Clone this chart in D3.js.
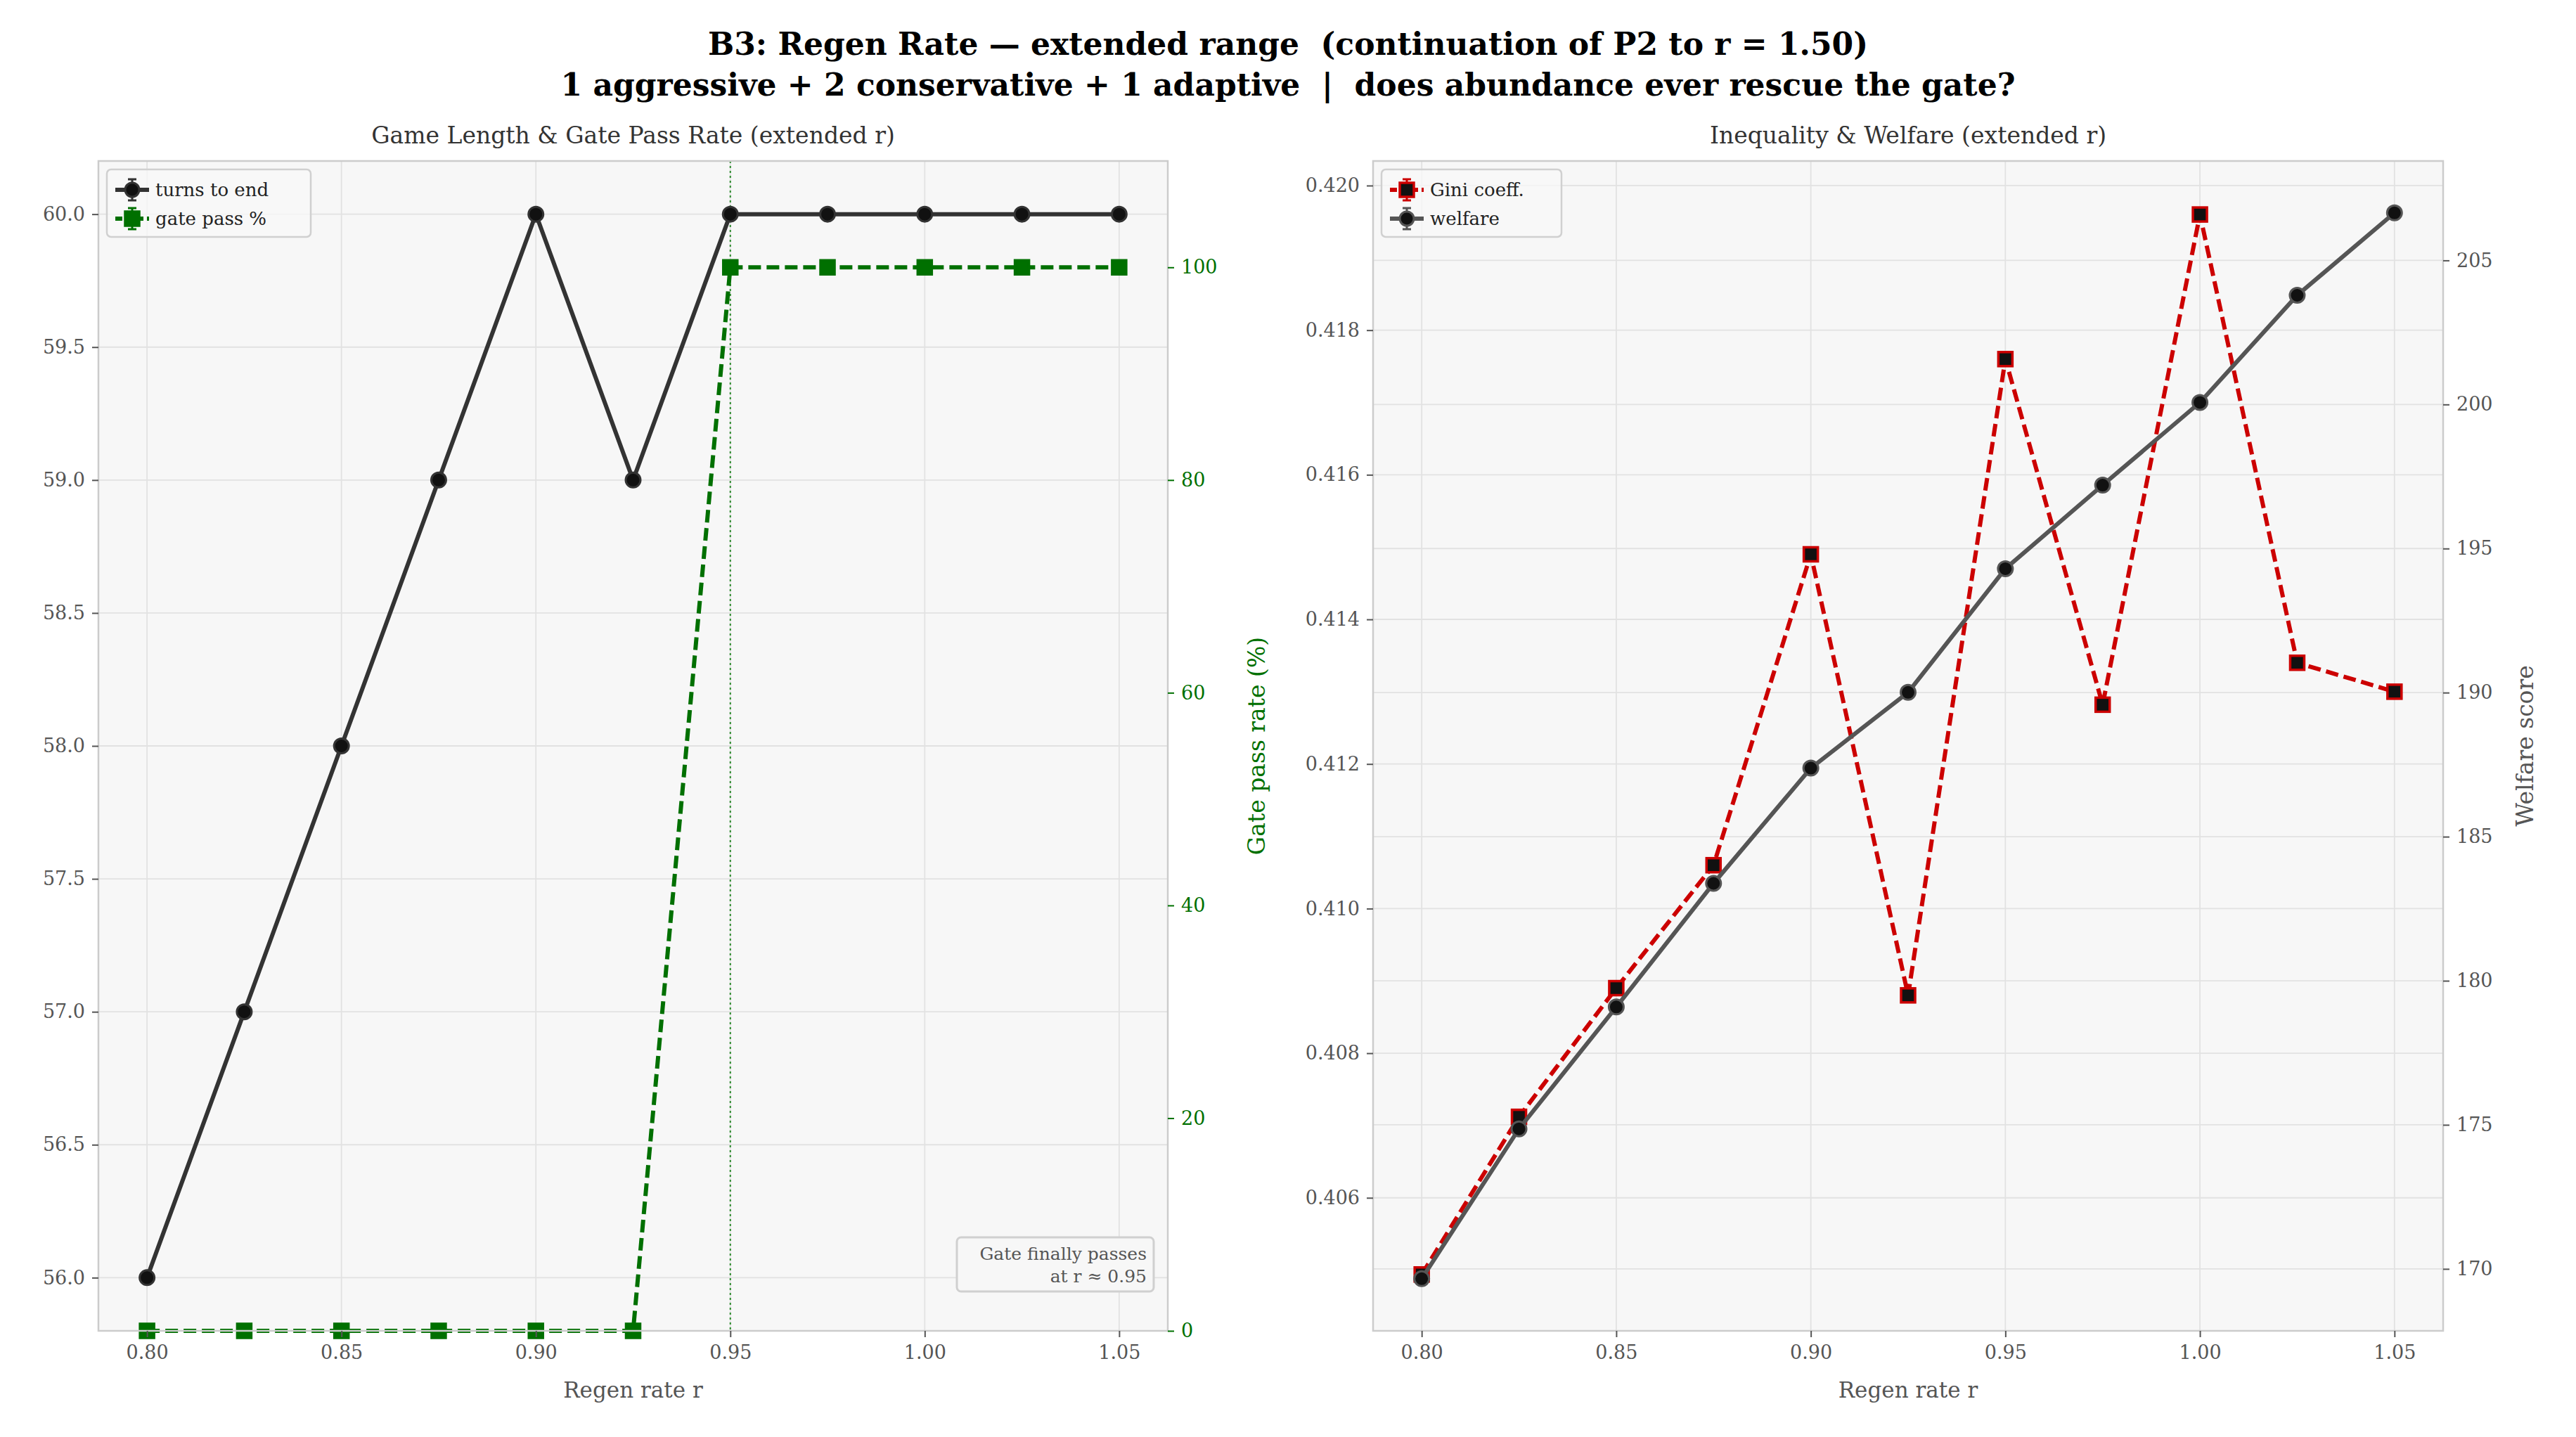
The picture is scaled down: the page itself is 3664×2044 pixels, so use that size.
<!DOCTYPE html>
<html><head><meta charset="utf-8">
<script src="https://cdn.jsdelivr.net/npm/d3@7"></script>
<style>body{margin:0;background:#fff}svg{font-family:"DejaVu Serif",serif}text{white-space:pre}</style>
</head><body><svg id="c" width="3664" height="2044"></svg>
<script>
const regen=[0.80,0.825,0.85,0.875,0.90,0.925,0.95,0.975,1.00,1.025,1.05];
const turns=[56,57,58,59,60,59,60,60,60,60,60];
const gate=[0,0,0,0,0,0,100,100,100,100,100];
const gini=[0.40494,0.40712,0.40890,0.41060,0.41490,0.40880,0.41760,0.41282,0.41960,0.41340,0.41300];
const welfare=[169.66,174.86,179.09,183.38,187.38,190.01,194.30,197.20,200.07,203.79,206.65];
const xTicks=[0.80,0.85,0.90,0.95,1.00,1.05];
const turnTicks=[56.0,56.5,57.0,57.5,58.0,58.5,59.0,59.5,60.0];
const gateTicks=[0,20,40,60,80,100];
const giniTicks=[0.406,0.408,0.410,0.412,0.414,0.416,0.418,0.420];
const welfareTicks=[170,175,180,185,190,195,200,205];

const svg=d3.select("#c");
const tickC="#555", gridC="#e2e2e2", spineC="#cccccc";
svg.append("text").attr("x",1832).attr("y",78).attr("text-anchor","middle").attr("font-size",44).attr("font-weight","bold").attr("xml:space","preserve").text("B3: Regen Rate — extended range  (continuation of P2 to r = 1.50)");
svg.append("text").attr("x",1832).attr("y",136).attr("text-anchor","middle").attr("font-size",44).attr("font-weight","bold").attr("xml:space","preserve").text("1 aggressive + 2 conservative + 1 adaptive  |  does abundance ever rescue the gate?");

function panel(x0,x1,y0,y1,title){
  const g=svg.append("g");
  g.append("rect").attr("x",x0).attr("y",y0).attr("width",x1-x0).attr("height",y1-y0).attr("fill","#f7f7f7");
  g.append("text").attr("x",(x0+x1)/2).attr("y",y0-25).attr("text-anchor","middle").attr("font-size",33).attr("fill","#333").text(title);
  const x=d3.scaleLinear().domain([0.7875,1.0625]).range([x0,x1]);
  return {g,x};
}
function grid(g,x,y,x0,x1,y0,y1,xt,yt){
  xt.forEach(v=>g.append("line").attr("x1",x(v)).attr("x2",x(v)).attr("y1",y0).attr("y2",y1).attr("stroke",gridC).attr("stroke-width",1.8));
  yt.forEach(v=>g.append("line").attr("y1",y(v)).attr("y2",y(v)).attr("x1",x0).attr("x2",x1).attr("stroke",gridC).attr("stroke-width",1.8));
}
function axes(g,x,y0,y1,x0,x1){
  const ax=g.append("g").attr("transform",`translate(0,${y1})`).call(d3.axisBottom(x).tickValues(xTicks).tickFormat(d3.format(".2f")).tickSize(9).tickPadding(12));
  ax.select(".domain").remove();
  ax.selectAll("line").attr("stroke",tickC).attr("stroke-width",2);
  ax.selectAll("text").attr("font-size",27).attr("fill",tickC).attr("font-family","DejaVu Serif");
  g.append("text").attr("x",(x0+x1)/2).attr("y",y1+95).attr("text-anchor","middle").attr("font-size",31).attr("fill","#555").text("Regen rate r");
}
function yaxis(g,scale,ticks,fmt,xpos,left,color){
  const a=g.append("g").attr("transform",`translate(${xpos},0)`).call((left?d3.axisLeft(scale):d3.axisRight(scale)).tickValues(ticks).tickFormat(fmt).tickSize(9).tickPadding(10));
  a.select(".domain").remove();
  a.selectAll("line").attr("stroke",color).attr("stroke-width",2);
  a.selectAll("text").attr("font-size",27).attr("fill",color).attr("font-family","DejaVu Serif");
}
function frame(g,x0,x1,y0,y1){
  g.append("rect").attr("x",x0).attr("y",y0).attr("width",x1-x0).attr("height",y1-y0).attr("fill","none").attr("stroke",spineC).attr("stroke-width",2.5);
}
function series(g,x,y,vals,color,dash,shape,face,edge){
  const line=d3.line().x((d,i)=>x(regen[i])).y(d=>y(d));
  g.append("path").datum(vals).attr("d",line).attr("fill","none").attr("stroke",color).attr("stroke-width",6).attr("stroke-dasharray",dash||null);
  vals.forEach((v,i)=>{
    if(shape==="circle") g.append("circle").attr("cx",x(regen[i])).attr("cy",y(v)).attr("r",10.5).attr("fill",face).attr("stroke",edge).attr("stroke-width",3);
    else g.append("rect").attr("x",x(regen[i])-10).attr("y",y(v)-10).attr("width",20).attr("height",20).attr("fill",face).attr("stroke",edge).attr("stroke-width",3.5);
  });
}
function legend(g,lx,ly,items){
  const w=items[0].w;
  g.append("rect").attr("x",lx).attr("y",ly).attr("width",w).attr("height",96).attr("rx",6).attr("fill","#f7f7f7").attr("fill-opacity",0.8).attr("stroke","#d0d0d0").attr("stroke-width",2.5);
  items.forEach((it,k)=>{
    const cy=ly+29+k*41, cx=lx+36;
    g.append("line").attr("x1",cx-24).attr("x2",cx+24).attr("y1",cy).attr("y2",cy).attr("stroke",it.color).attr("stroke-width",6).attr("stroke-dasharray",it.dash||null);
    g.append("line").attr("x1",cx).attr("x2",cx).attr("y1",cy-15).attr("y2",cy+15).attr("stroke",it.color).attr("stroke-width",3);
    [cy-15,cy+15].forEach(yy=>g.append("line").attr("x1",cx-6).attr("x2",cx+6).attr("y1",yy).attr("y2",yy).attr("stroke",it.color).attr("stroke-width",3));
    if(it.shape==="circle") g.append("circle").attr("cx",cx).attr("cy",cy).attr("r",10).attr("fill",it.face).attr("stroke",it.edge).attr("stroke-width",3);
    else g.append("rect").attr("x",cx-10).attr("y",cy-10).attr("width",20).attr("height",20).attr("fill",it.face).attr("stroke",it.edge).attr("stroke-width",3.5);
    g.append("text").attr("x",cx+33).attr("y",cy+9).attr("font-size",26).attr("fill","#222").text(it.label);
  });
}

// Left panel
{
  const x0=140,x1=1661,y0=229,y1=1893;
  const {g,x}=panel(x0,x1,y0,y1,"Game Length & Gate Pass Rate (extended r)");
  const y=d3.scaleLinear().domain([55.8,60.2]).range([y1,y0]);
  const y2=d3.scaleLinear().domain([0,110]).range([y1,y0]);
  grid(g,x,y,x0,x1,y0,y1,xTicks,turnTicks);
  g.append("line").attr("x1",x(0.95)).attr("x2",x(0.95)).attr("y1",y0).attr("y2",y1).attr("stroke","#2a8a2a").attr("stroke-width",2).attr("stroke-dasharray","3,4");
  series(g,x,y,turns,"#333333",null,"circle","#111","#333");
  series(g,x,y2,gate,"#007000","18,8","square","#007000","#007000");
  frame(g,x0,x1,y0,y1);
  axes(g,x,y0,y1,x0,x1);
  yaxis(g,y,turnTicks,d3.format(".1f"),x0,true,tickC);
  yaxis(g,y2,gateTicks,d3.format("d"),x1,false,"#007000");
  g.append("text").attr("transform",`translate(${x1+138},${(y0+y1)/2}) rotate(-90)`).attr("text-anchor","middle").attr("font-size",33).attr("fill","#007000").text("Gate pass rate (%)");
  legend(g,x0+12,y0+12,[{w:290,label:"turns to end",color:"#333",shape:"circle",face:"#111",edge:"#333"},{label:"gate pass %",color:"#007000",shape:"square",face:"#007000",edge:"#007000",dash:"10,5"}]);
  const bx=1361,by=1760,bw=280,bh=77;
  g.append("rect").attr("x",bx).attr("y",by).attr("width",bw).attr("height",bh).attr("rx",6).attr("fill","#f7f7f7").attr("stroke","#d0d0d0").attr("stroke-width",3);
  g.append("text").attr("x",bx+bw-10).attr("y",by+32).attr("text-anchor","end").attr("font-size",25).attr("fill","#555").text("Gate finally passes");
  g.append("text").attr("x",bx+bw-10).attr("y",by+64).attr("text-anchor","end").attr("font-size",25).attr("fill","#555").text("at r ≈ 0.95");
}
// Right panel
{
  const x0=1953,x1=3475,y0=229,y1=1893;
  const {g,x}=panel(x0,x1,y0,y1,"Inequality & Welfare (extended r)");
  const y=d3.scaleLinear().domain([0.40416,0.42034]).range([y1,y0]);
  const y2=d3.scaleLinear().domain([167.85,208.45]).range([y1,y0]);
  grid(g,x,y,x0,x1,y0,y1,xTicks,giniTicks);
  welfareTicks.forEach(v=>g.append("line").attr("y1",y2(v)).attr("y2",y2(v)).attr("x1",x0).attr("x2",x1).attr("stroke",gridC).attr("stroke-width",1.8));
  series(g,x,y,gini,"#cc0000","18,8","square","#111","#cc0000");
  series(g,x,y2,welfare,"#555555",null,"circle","#111","#555");
  frame(g,x0,x1,y0,y1);
  axes(g,x,y0,y1,x0,x1);
  yaxis(g,y,giniTicks,d3.format(".3f"),x0,true,tickC);
  yaxis(g,y2,welfareTicks,d3.format("d"),x1,false,tickC);
  g.append("text").attr("transform",`translate(${x1+128},${(y0+y1)/2}) rotate(-90)`).attr("text-anchor","middle").attr("font-size",33).attr("fill","#555").text("Welfare score");
  legend(g,x0+12,y0+12,[{w:256,label:"Gini coeff.",color:"#cc0000",shape:"square",face:"#111",edge:"#cc0000",dash:"10,5"},{label:"welfare",color:"#555",shape:"circle",face:"#111",edge:"#555"}]);
}
</script></body></html>
